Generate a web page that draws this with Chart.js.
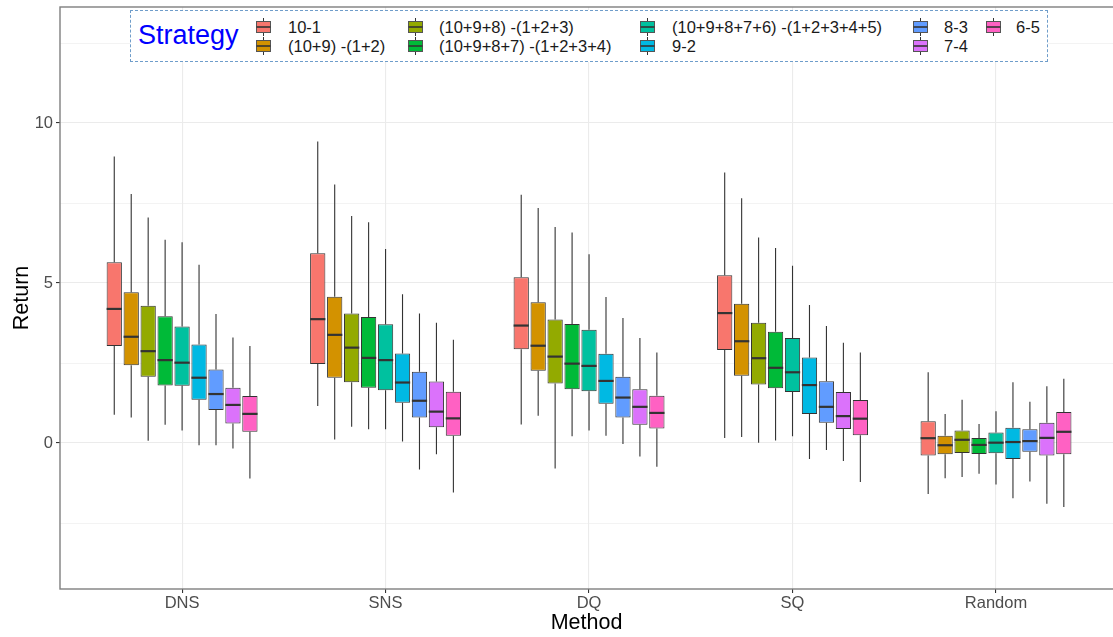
<!DOCTYPE html>
<html>
<head>
<meta charset="utf-8">
<script src="https://cdn.jsdelivr.net/npm/chart.js@4.4.1/dist/chart.umd.min.js"></script>
<style>
  html, body { margin: 0; padding: 0; background: #fff; overflow: hidden; }
  #wrap { position: relative; width: 1113px; height: 637px; font-family: "Liberation Sans", Arial, sans-serif; }
  #chart { position: absolute; left: 0; top: 0; }
  .lg-box { position: absolute; left: 130px; top: 10px; width: 916px; height: 50px; border: 1px dashed #6f9dca; background: #fff; z-index: 2; }
  .lg-title { position: absolute; left: 138px; top: 22px; font-size: 27px; line-height: 27px; color: #0000ff; z-index: 3; white-space: nowrap; }
  .lg-text { position: absolute; font-size: 16.5px; line-height: 16.5px; color: #1a1a1a; z-index: 3; white-space: nowrap; }
  .lg-key { position: absolute; z-index: 3; }
</style>
</head>
<body>
<div id="wrap">
  <canvas id="chart" width="1113" height="637"></canvas>
  <div id="legend"></div>
</div>
<script>
// ---- categories and labels ----
const methods = ["DNS", "SNS", "DQ", "SQ", "Random"];
const strategies = ["10-1", "(10+9) -(1+2)", "(10+9+8) -(1+2+3)", "(10+9+8+7) -(1+2+3+4)",
  "(10+9+8+7+6) -(1+2+3+4+5)", "9-2", "8-3", "7-4", "6-5"];
const colors = ["#F8766D", "#D39200", "#93AA00", "#00BA38", "#00C19F", "#00B9E3", "#619CFF", "#DB72FB", "#FF61C3"];
const yTicks = [-2.5, 0, 2.5, 5, 7.5, 10, 12.5];

// ---- box statistics: [strategy][method] (DNS, SNS, DQ, SQ, Random) ----
const whiskerLow = [
  [0.88, 1.16, 0.58, 0.16, -1.59],
  [0.80, 0.11, 0.85, 0.19, -1.10],
  [0.07, 0.51, -0.80, 0.01, -1.06],
  [0.57, 0.43, 0.21, 0.08, -0.96],
  [0.39, 0.43, 0.39, 0.21, -1.30],
  [-0.07, 0.05, 0.23, -0.50, -1.73],
  [-0.07, -0.83, -0.03, -0.22, -1.20],
  [-0.17, -0.35, -0.42, -0.56, -1.90],
  [-1.11, -1.55, -0.74, -1.22, -2.00]
];
const q1 = [
  [3.03, 2.47, 2.93, 2.91, -0.39],
  [2.43, 2.04, 2.26, 2.10, -0.35],
  [2.07, 1.90, 1.86, 1.83, -0.31],
  [1.80, 1.73, 1.68, 1.71, -0.34],
  [1.79, 1.65, 1.62, 1.59, -0.32],
  [1.35, 1.26, 1.23, 0.91, -0.50],
  [1.03, 0.80, 0.80, 0.63, -0.27],
  [0.61, 0.49, 0.57, 0.44, -0.39],
  [0.35, 0.23, 0.45, 0.24, -0.35]
];
const median = [
  [4.19, 3.87, 3.67, 4.06, 0.15],
  [3.32, 3.38, 3.04, 3.18, -0.07],
  [2.87, 2.98, 2.70, 2.65, 0.10],
  [2.59, 2.66, 2.48, 2.35, -0.06],
  [2.51, 2.59, 2.41, 2.21, 0.01],
  [2.04, 1.89, 1.94, 1.81, 0.03],
  [1.53, 1.32, 1.42, 1.13, 0.06],
  [1.19, 0.98, 1.13, 0.84, 0.16],
  [0.91, 0.77, 0.94, 0.76, 0.35]
];
const q3 = [
  [5.65, 5.93, 5.18, 5.24, 0.68],
  [4.71, 4.57, 4.40, 4.35, 0.23],
  [4.29, 4.05, 3.86, 3.76, 0.39],
  [3.96, 3.94, 3.72, 3.48, 0.16],
  [3.64, 3.71, 3.54, 3.28, 0.33],
  [3.08, 2.80, 2.79, 2.67, 0.48],
  [2.30, 2.23, 2.07, 1.93, 0.43],
  [1.73, 1.92, 1.68, 1.59, 0.63],
  [1.47, 1.60, 1.48, 1.34, 0.97]
];
const whiskerHigh = [
  [8.95, 9.42, 7.76, 8.45, 2.21],
  [7.78, 8.08, 7.34, 7.65, 0.91],
  [7.05, 7.09, 6.75, 6.42, 1.35],
  [6.35, 6.90, 6.58, 6.09, 0.59],
  [6.27, 6.06, 5.90, 5.54, 0.99],
  [5.57, 4.65, 4.56, 4.31, 1.90],
  [4.03, 4.05, 3.91, 3.66, 1.29],
  [3.30, 3.76, 3.28, 3.13, 1.77],
  [3.03, 3.23, 2.83, 2.83, 2.01]
];

// ---- datasets built from the arrays ----
const datasets = strategies.map((name, s) => ({
  label: name,
  data: methods.map((m, i) => ({ x: i, y: [q1[s][i], q3[s][i]] })),
  backgroundColor: colors[s],
  borderColor: "#333333",
  borderWidth: 1,
  borderSkipped: false,
  barPercentage: 0.9,
  categoryPercentage: 0.75
}));

const boxExtras = {
  id: "boxExtras",
  beforeDatasetsDraw(chart) {
    const ctx = chart.ctx, ys = chart.scales.y, a = chart.chartArea;
    ctx.save();
    ctx.beginPath(); ctx.rect(a.left, a.top, a.right - a.left, a.bottom - a.top); ctx.clip();
    ctx.strokeStyle = "#333333"; ctx.lineWidth = 1.1;
    chart.data.datasets.forEach((ds, s) => {
      const meta = chart.getDatasetMeta(s);
      meta.data.forEach((bar, i) => {
        ctx.beginPath();
        ctx.moveTo(bar.x, ys.getPixelForValue(whiskerHigh[s][i]));
        ctx.lineTo(bar.x, ys.getPixelForValue(q3[s][i]));
        ctx.moveTo(bar.x, ys.getPixelForValue(q1[s][i]));
        ctx.lineTo(bar.x, ys.getPixelForValue(whiskerLow[s][i]));
        ctx.stroke();
      });
    });
    ctx.restore();
  },
  afterDatasetsDraw(chart) {
    const ctx = chart.ctx, ys = chart.scales.y, a = chart.chartArea;
    ctx.save();
    ctx.strokeStyle = "#333333"; ctx.lineWidth = 2.2;
    chart.data.datasets.forEach((ds, s) => {
      const meta = chart.getDatasetMeta(s);
      meta.data.forEach((bar, i) => {
        const y = ys.getPixelForValue(median[s][i]);
        ctx.beginPath();
        ctx.moveTo(bar.x - bar.width / 2, y);
        ctx.lineTo(bar.x + bar.width / 2, y);
        ctx.stroke();
      });
    });
    // panel border
    ctx.strokeStyle = "#7f7f7f"; ctx.lineWidth = 1.4;
    ctx.strokeRect(a.left, a.top, a.right - a.left + 10, a.bottom - a.top);
    ctx.restore();
  }
};

const FONT = "'Liberation Sans', Arial, sans-serif";

new Chart(document.getElementById("chart"), {
  type: "bar",
  data: { datasets },
  plugins: [boxExtras],
  options: {
    responsive: false,
    animation: false,
    devicePixelRatio: 1,
    layout: { padding: { top: 7, left: 0, right: 0, bottom: 0 } },
    plugins: { legend: { display: false }, tooltip: { enabled: false } },
    scales: {
      x: {
        type: "linear",
        offset: false,
        min: -0.6,
        max: 4.575,
        afterBuildTicks(scale) { scale.ticks = methods.map((m, i) => ({ value: i })); },
        afterFit(scale) { scale.height = 48; scale.paddingLeft = 0; scale.paddingRight = 0; },
        ticks: {
          callback: (v) => methods[v] ?? "",
          color: "#4d4d4d",
          font: { family: FONT, size: 16.5 },
          padding: 1,
          maxRotation: 0,
          autoSkip: false
        },
        grid: { offset: false, color: "#ebebeb", lineWidth: 1.1, tickColor: "#333333", tickLength: 4 },
        border: { display: false },
        title: { display: true, text: "Method", color: "#000", font: { family: FONT, size: 21.5 }, padding: { top: 0, bottom: 1 } }
      },
      y: {
        type: "linear",
        min: -4.5625,
        max: 13.625,
        afterBuildTicks(scale) { scale.ticks = yTicks.map(v => ({ value: v })); },
        afterFit(scale) { scale.width = 60; scale.paddingTop = 0; scale.paddingBottom = 0; },
        ticks: {
          callback: (v) => Number.isInteger(v) ? String(v) : "",
          color: "#4d4d4d",
          font: { family: FONT, size: 16.5 },
          padding: 3,
          autoSkip: false
        },
        grid: {
          color: "#ebebeb",
          lineWidth: (c) => (c.tick && Number.isInteger(c.tick.value)) ? 1.1 : 0.6,
          tickColor: (c) => (c.tick && Number.isInteger(c.tick.value)) ? "#333333" : "rgba(0,0,0,0)",
          tickLength: 4
        },
        border: { display: false },
        title: { display: true, text: "Return", color: "#000", font: { family: FONT, size: 21.5 }, padding: { top: 9, bottom: 0 } }
      }
    }
  }
});

// ---- legend (HTML) ----
(function buildLegend() {
  const host = document.getElementById("legend");
  let html = '<div class="lg-box"></div><div class="lg-title">Strategy</div>';
  const keyLeft = [256, 407.5, 640, 913, 986];
  const textLeft = [288, 439, 672, 944, 1016];
  const rowCenter = [26.6, 45.6];
  const textTop = [19.4, 37.8];
  strategies.forEach((name, s) => {
    const col = Math.floor(s / 2), row = s % 2;
    const kc = rowCenter[row];
    html += '<svg class="lg-key" width="17" height="18" style="left:' + (keyLeft[col] - 1) + 'px;top:' + (kc - 9) + 'px">' +
      '<line x1="8.5" y1="0" x2="8.5" y2="18" stroke="#333" stroke-width="1"/>' +
      '<rect x="1.5" y="3.5" width="14" height="11" fill="' + colors[s] + '" stroke="#555" stroke-width="1"/>' +
      '<line x1="1.5" y1="9" x2="15.5" y2="9" stroke="#333" stroke-width="1.6"/></svg>';
    html += '<div class="lg-text" style="left:' + textLeft[col] + 'px;top:' + textTop[row] + 'px">' + name + '</div>';
  });
  host.innerHTML = html;
})();
</script>
</body>
</html>
